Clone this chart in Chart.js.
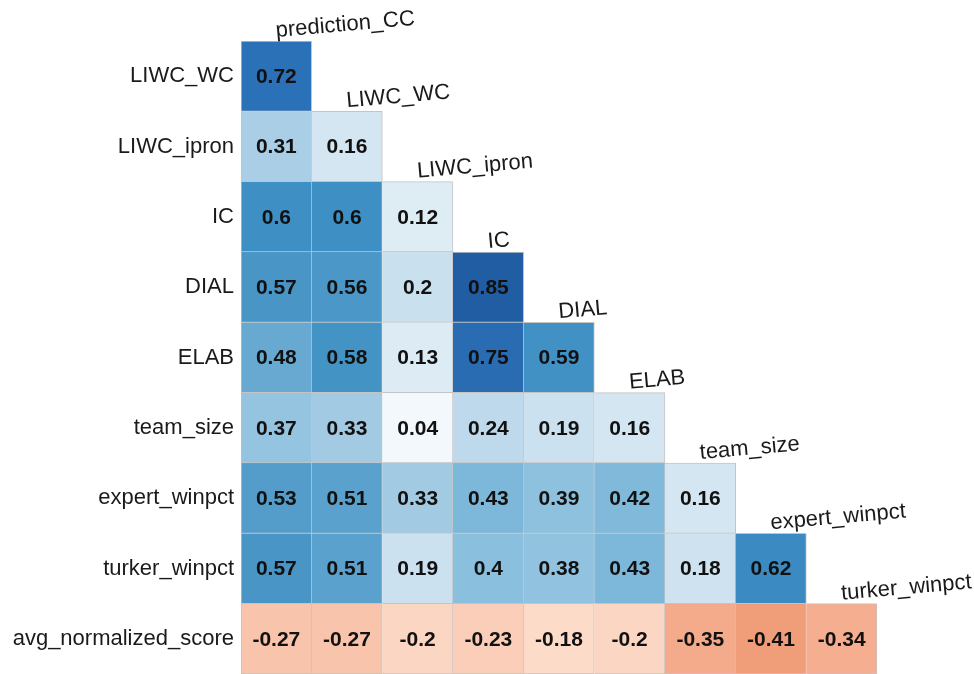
<!DOCTYPE html>
<html>
<head>
<meta charset="utf-8">
<script src="https://cdn.jsdelivr.net/npm/chart.js@4/dist/chart.umd.min.js"></script>
<style>
  html, body { margin: 0; padding: 0; background: #ffffff; }
  #wrap { width: 974px; height: 674px; }
</style>
</head>
<body>
<div id="wrap"><canvas id="corr" width="974" height="674"></canvas></div>
<script>
// Variables along the columns (upper labels) and rows (left labels)
const columnLabels = ['prediction_CC', 'LIWC_WC', 'LIWC_ipron', 'IC', 'DIAL', 'ELAB',
                      'team_size', 'expert_winpct', 'turker_winpct'];
const rowLabels = ['LIWC_WC', 'LIWC_ipron', 'IC', 'DIAL', 'ELAB', 'team_size',
                   'expert_winpct', 'turker_winpct', 'avg_normalized_score'];

// Lower-triangle correlation coefficients, one list per row
const corrLIWC_WC      = [0.72];
const corrLIWC_ipron   = [0.31, 0.16];
const corrIC           = [0.6, 0.6, 0.12];
const corrDIAL         = [0.57, 0.56, 0.2, 0.85];
const corrELAB         = [0.48, 0.58, 0.13, 0.75, 0.59];
const corrTeamSize     = [0.37, 0.33, 0.04, 0.24, 0.19, 0.16];
const corrExpertWin    = [0.53, 0.51, 0.33, 0.43, 0.39, 0.42, 0.16];
const corrTurkerWin    = [0.57, 0.51, 0.19, 0.4, 0.38, 0.43, 0.18, 0.62];
const corrAvgScore     = [-0.27, -0.27, -0.2, -0.23, -0.18, -0.2, -0.35, -0.41, -0.34];

const correlations = [corrLIWC_WC, corrLIWC_ipron, corrIC, corrDIAL, corrELAB,
                      corrTeamSize, corrExpertWin, corrTurkerWin, corrAvgScore];

// Diverging colour ramp: blues for positive, oranges for negative
const posStops = [
  [0.00, [248, 252, 255]], [0.04, [242, 248, 251]], [0.16, [212, 230, 241]],
  [0.30, [172, 208, 230]], [0.40, [138, 191, 221]], [0.50, [94, 163, 206]],
  [0.60, [62, 143, 195]],  [0.72, [43, 113, 183]],  [0.85, [33, 93, 163]],
  [1.00, [8, 48, 107]]
];
const negStops = [
  [0.00, [255, 250, 247]], [0.18, [252, 219, 201]], [0.27, [248, 196, 172]],
  [0.35, [244, 171, 140]], [0.41, [240, 158, 122]], [1.00, [178, 24, 43]]
];
function rampColour(v) {
  const stops = v >= 0 ? posStops : negStops;
  const a = Math.abs(v);
  for (let i = 1; i < stops.length; i++) {
    if (a <= stops[i][0]) {
      const [p0, c0] = stops[i - 1];
      const [p1, c1] = stops[i];
      const t = (a - p0) / (p1 - p0);
      const c = c0.map((ch, k) => Math.round(ch + (c1[k] - ch) * t));
      return `rgb(${c[0]},${c[1]},${c[2]})`;
    }
  }
  const c = stops[stops.length - 1][1];
  return `rgb(${c[0]},${c[1]},${c[2]})`;
}

// One floating-bar dataset per row; each bar spans its row band on the y scale
const datasets = rowLabels.map((name, r) => ({
  label: name,
  data: columnLabels.map((_, c) => (c <= r ? [r, r + 1] : null)),
  backgroundColor: ctx => {
    const v = correlations[r][ctx.dataIndex];
    return v === undefined ? 'rgba(0,0,0,0)' : rampColour(v);
  },
  borderColor: '#c4c4c4',
  borderWidth: ctx => ({
    top: ctx.dataIndex === r ? 1 : 0,
    left: ctx.dataIndex === 0 ? 1 : 0,
    right: 1,
    bottom: 1
  }),
  borderSkipped: false,
  grouped: false,
  barPercentage: 1,
  categoryPercentage: 1
}));

const labelFont = '22px "Liberation Sans", Arial, sans-serif';
const valueFont = 'bold 21px "Liberation Sans", Arial, sans-serif';

// Writes the coefficient inside each cell and the tilted column names above the diagonal
const cellText = {
  id: 'cellText',
  afterDatasetsDraw(chart) {
    const ctx = chart.ctx;
    ctx.save();
    chart.data.datasets.forEach((ds, r) => {
      const meta = chart.getDatasetMeta(r);
      meta.data.forEach((bar, c) => {
        const v = correlations[r][c];
        if (v === undefined) return;
        const top = Math.min(bar.y, bar.base);
        const bottom = Math.max(bar.y, bar.base);
        ctx.font = valueFont;
        ctx.fillStyle = '#111111';
        ctx.textAlign = 'center';
        ctx.textBaseline = 'middle';
        ctx.fillText(String(v), bar.x, (top + bottom) / 2 + 1);
        if (c === r) {
          ctx.save();
          ctx.translate(bar.x, top - 4);
          ctx.rotate(-5 * Math.PI / 180);
          ctx.font = labelFont;
          ctx.fillStyle = '#1a1a1a';
          ctx.textAlign = 'left';
          ctx.textBaseline = 'alphabetic';
          ctx.fillText(columnLabels[c], 0, 0);
          ctx.restore();
        }
      });
    });
    ctx.restore();
  }
};

new Chart(document.getElementById('corr'), {
  type: 'bar',
  data: { labels: columnLabels, datasets },
  options: {
    responsive: false,
    animation: false,
    layout: { padding: { top: 41, right: 97, bottom: 0, left: 0 } },
    plugins: { legend: { display: false }, tooltip: { enabled: false } },
    scales: {
      x: { display: false },
      y: {
        min: 0,
        max: 9,
        reverse: true,
        grid: { display: false, drawTicks: false },
        border: { display: false },
        afterBuildTicks: scale => {
          scale.ticks = rowLabels.map((_, i) => ({ value: i + 0.5 }));
        },
        afterFit: scale => {
          scale.width = 241;
          scale.paddingTop = 0;
          scale.paddingBottom = 0;
        },
        ticks: {
          autoSkip: false,
          padding: 7,
          color: '#1a1a1a',
          font: { family: '"Liberation Sans", Arial, sans-serif', size: 22 },
          callback: (value) => rowLabels[Math.floor(value)]
        }
      }
    }
  },
  plugins: [cellText]
});
</script>
</body>
</html>
